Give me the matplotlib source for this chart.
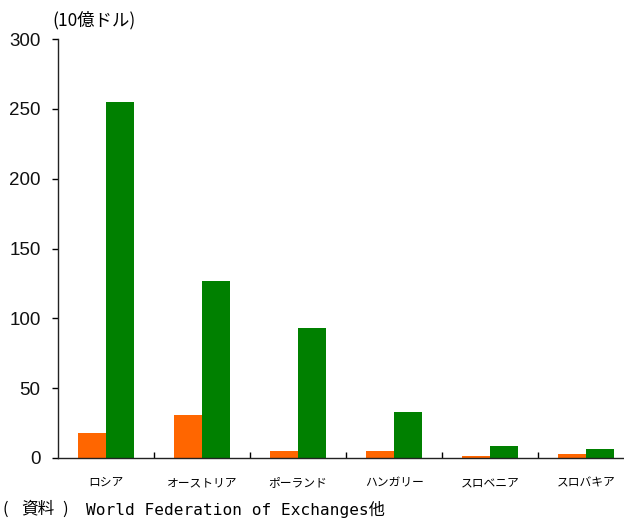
import numpy as np
import matplotlib.pyplot as plt
from matplotlib import rcParams

rcParams['font.family'] = ['Liberation Sans', 'Noto Sans CJK JP']

COL_ORANGE = '#FF6600'
COL_GREEN  = '#008000'
JP_FONT    = ['Noto Sans CJK JP', 'DejaVu Sans']

countries    = ['ロシア', 'オーストリア', 'ポーランド', 'ハンガリー', 'スロベニア', 'スロバキア']
vals_orange  = [18, 31, 5, 5, 1.4, 2.9]
vals_green   = [255, 127, 93, 33, 8.6, 6.4]
yticks       = [0, 50, 100, 150, 200, 250, 300]

fig = plt.figure(figsize=(6.24, 5.18), dpi=100)
ax = fig.add_axes([58 / 624, 60 / 518, 576 / 624, 419 / 518])

x = np.arange(len(countries))
w = 0.29
ax.bar(x - w / 2, vals_orange, width=w, color=COL_ORANGE, edgecolor='none')
ax.bar(x + w / 2, vals_green, width=w, color=COL_GREEN, edgecolor='none')

ax.set_xlim(-0.5, len(countries) - 0.5)
ax.set_ylim(0, 300)
ax.set_yticks(yticks)
ax.set_yticklabels([str(v) for v in yticks], fontsize=13.5, color='#111111')
ax.tick_params(axis='y', direction='out', length=4, width=1.0, pad=8.5)

ax.set_xticks(x)
ax.set_xticklabels(countries, fontsize=8.5, family=JP_FONT)
ax.tick_params(axis='x', which='major', length=0, pad=13)
ax.set_xticks(np.arange(0.5, len(countries) - 1), minor=True)
ax.tick_params(axis='x', which='minor', direction='in', length=4, width=1.0)

for side in ('top', 'right'):
    ax.spines[side].set_visible(False)
for side in ('left', 'bottom'):
    ax.spines[side].set_linewidth(1.0)
    ax.spines[side].set_color('#222222')

fig.text(52 / 624, 1 - 20 / 518, '(10億ドル)', fontsize=12.5, family=JP_FONT,
         ha='left', va='center')

# source line: spaced "( 資料 )" then monospaced Latin part
y_src = 1 - 509 / 518
fig.text(3 / 624, y_src, '(', fontsize=12, family=JP_FONT, ha='left', va='center')
fig.text(21 / 624, y_src, '資料', fontsize=12, family=JP_FONT, ha='left', va='center')
fig.text(62 / 624, y_src, ')', fontsize=12, family=JP_FONT, ha='left', va='center')
fig.text(86 / 624, y_src, 'World Federation of Exchanges他', fontsize=11.6,
         family=['DejaVu Sans Mono', 'Noto Sans CJK JP'], ha='left', va='center')

fig.savefig('out.png', dpi=100)
